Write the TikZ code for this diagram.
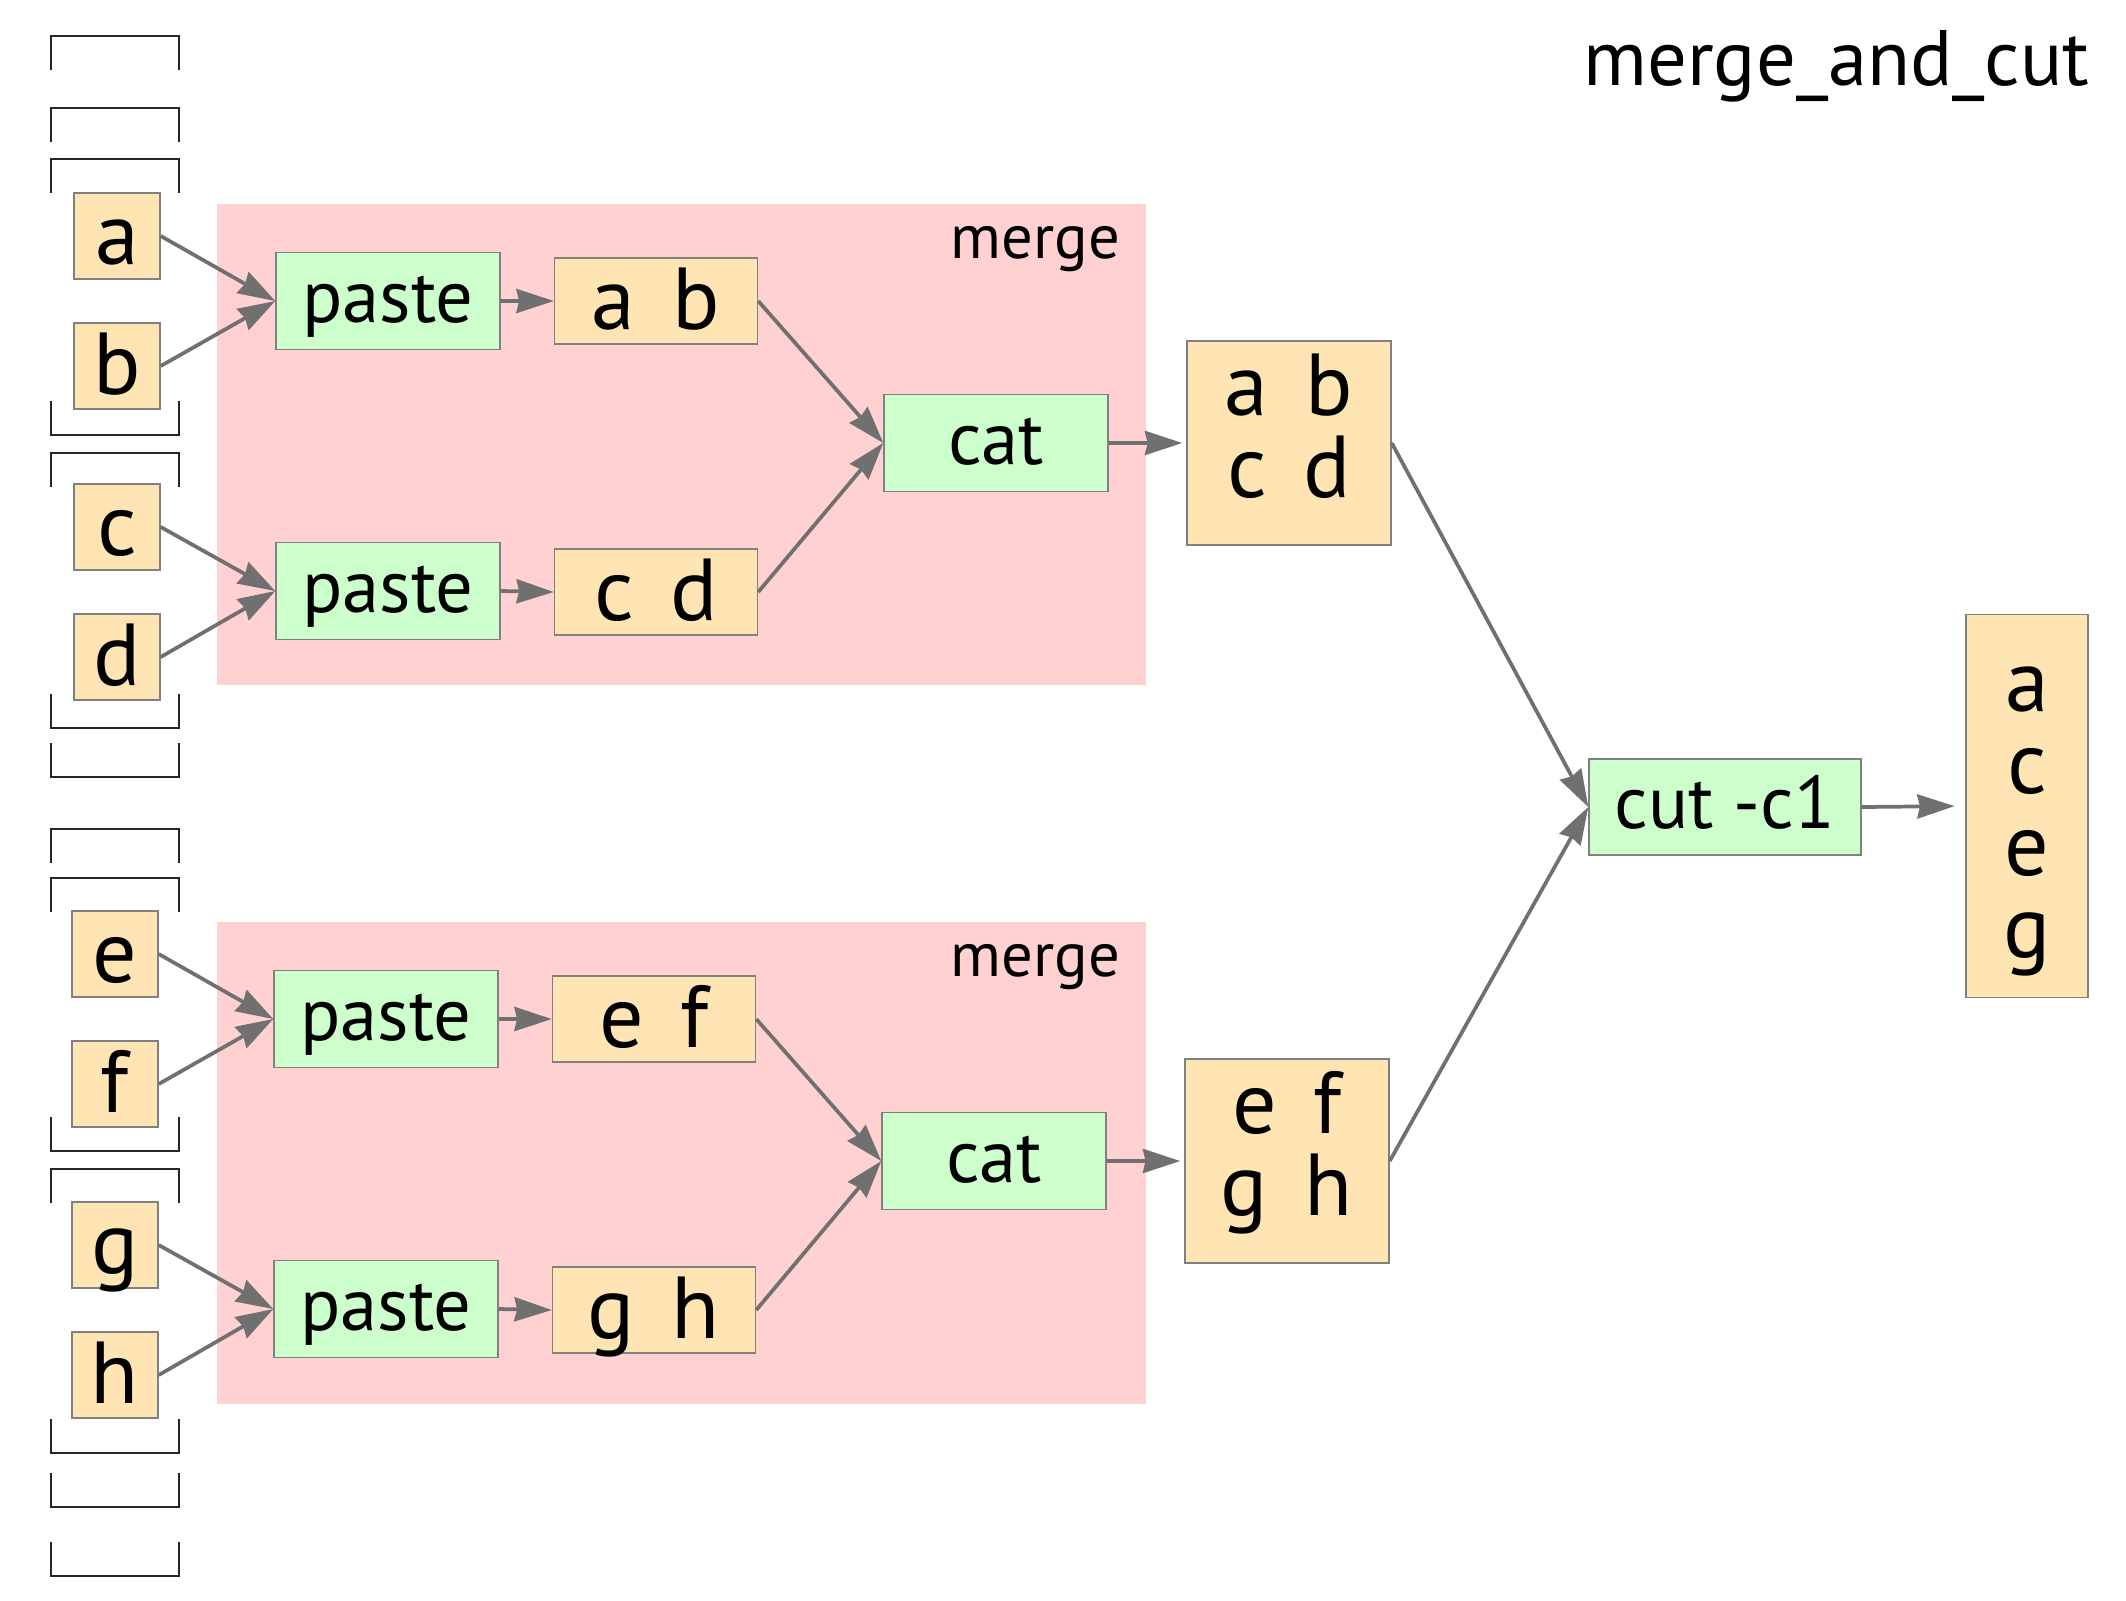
\documentclass[tikz,border=0pt]{standalone}
\usepackage{fontspec}
\setmainfont{PT Sans}
\usetikzlibrary{arrows.meta}
\definecolor{datafill}{RGB}{255,229,180}
\definecolor{opfill}{RGB}{204,255,204}
\definecolor{mergefill}{RGB}{255,209,209}
\definecolor{edgegray}{RGB}{112,112,112}
\definecolor{boxgray}{RGB}{128,128,128}
\newcommand{\colgap}{\hspace{0.42em}}
\newcommand{\toprow}[1]{\rule{0pt}{#1}}
\newcommand{\lastrow}[1]{\rule[-#1]{0pt}{#1}}

\begin{document}
\begin{tikzpicture}[x=0.75pt,y=0.75pt,yscale=-1,xscale=1,
	box/.style={draw=boxgray,line width=1.1pt,inner sep=0pt},
	data/.style={box,fill=datafill,font=\fontsize{66}{61.5}\selectfont,text height=50pt,text depth=8pt,minimum width=64.5pt,minimum height=64.5pt},
	pair/.style={data,minimum width=152.25pt},
	table/.style={data,align=center,text height=,text depth=},
	op/.style={box,fill=opfill,font=\fontsize{56}{60}\selectfont,text height=40pt,text depth=8pt,minimum width=168pt,minimum height=72.75pt},
	flow/.style={draw=edgegray,line width=2.8pt,-{Stealth[length=28pt,width=18pt,inset=2pt]}},
	bracket/.style={draw=black!85,line width=1.4pt}]
	\useasboundingbox (0,0) rectangle (2126,1600);
	\fill[mergefill] (217,204) rectangle (1146,685);
	\fill[mergefill] (217,922) rectangle (1146,1404);
	\foreach \y in {36,108,159,453,829,878,1169}
		\draw[bracket] (51,\y+34) -- (51,\y) -- (179,\y) -- (179,\y+34);
	\foreach \y in {435,728,777,1151,1453,1507,1576}
		\draw[bracket] (51,\y-34) -- (51,\y) -- (179,\y) -- (179,\y-34);
	\draw (2094,85) node [anchor=base east,font=\fontsize{59}{64}\selectfont] (title) {merge\_and\_cut};
	\draw (1125,258) node [anchor=base east,font=\fontsize{47}{52}\selectfont] (merge1) {merge};
	\draw (1125,976) node [anchor=base east,font=\fontsize{47}{52}\selectfont] (merge2) {merge};
	\draw (117,236) node [data] (a) {a};
	\draw (117,366) node [data] (b) {b};
	\draw (117,527) node [data] (c) {c};
	\draw (117,657) node [data] (d) {d};
	\draw (115,954) node [data] (e) {e};
	\draw (115,1084) node [data] (f) {f};
	\draw (115,1245) node [data] (g) {g};
	\draw (115,1375) node [data] (h) {h};
	\draw (388,301) node [op] (pasteab) {paste};
	\draw (388,591) node [op] (pastecd) {paste};
	\draw (386,1019) node [op] (pasteef) {paste};
	\draw (386,1309) node [op] (pastegh) {paste};
	\draw (656,301) node [pair] (ab) {a\colgap b};
	\draw (656,592) node [pair] (cd) {c\colgap d};
	\draw (654,1019) node [pair] (ef) {e\colgap f};
	\draw (654,1310) node [pair] (gh) {g\colgap h};
	\draw (996,443) node [op] (catabcd) {cat};
	\draw (994,1161) node [op] (catefgh) {cat};
	\draw (1289,443) node [table,minimum width=153pt,minimum height=153pt] (abcd) {\toprow{55pt}a\colgap b\\c\colgap d\lastrow{35.5pt}};
	\draw (1287,1161) node [table,minimum width=153pt,minimum height=153pt] (efgh) {\toprow{55pt}e\colgap f\\g\colgap h\lastrow{35.5pt}};
	\draw (1725,807) node [op,minimum width=204pt,minimum height=72pt] (cut) {cut -c1};
	\draw (2027,806) node [table,minimum width=91.5pt,minimum height=287.25pt] (aceg) {\toprow{62pt}a\\c\\e\\g\lastrow{19.3pt}};
	\draw [flow] (a.east) -- (pasteab.west);
	\draw [flow] (b.east) -- (pasteab.west);
	\draw [flow] (c.east) -- (pastecd.west);
	\draw [flow] (d.east) -- (pastecd.west);
	\draw [flow] (e.east) -- (pasteef.west);
	\draw [flow] (f.east) -- (pasteef.west);
	\draw [flow] (g.east) -- (pastegh.west);
	\draw [flow] (h.east) -- (pastegh.west);
	\draw [flow] (pasteab.east) -- (ab.west);
	\draw [flow] (pastecd.east) -- (cd.west);
	\draw [flow] (pasteef.east) -- (ef.west);
	\draw [flow] (pastegh.east) -- (gh.west);
	\draw [flow] (ab.east) -- (catabcd.west);
	\draw [flow] (cd.east) -- (catabcd.west);
	\draw [flow] (ef.east) -- (catefgh.west);
	\draw [flow] (gh.east) -- (catefgh.west);
	\draw [flow,shorten >=3pt] (catabcd.east) -- (abcd.west);
	\draw [flow,shorten >=3pt] (catefgh.east) -- (efgh.west);
	\draw [flow] (abcd.east) -- (cut.west);
	\draw [flow] (efgh.east) -- (cut.west);
	\draw [flow,shorten >=8pt] (cut.east) -- (aceg.west);
\end{tikzpicture}
\end{document}
